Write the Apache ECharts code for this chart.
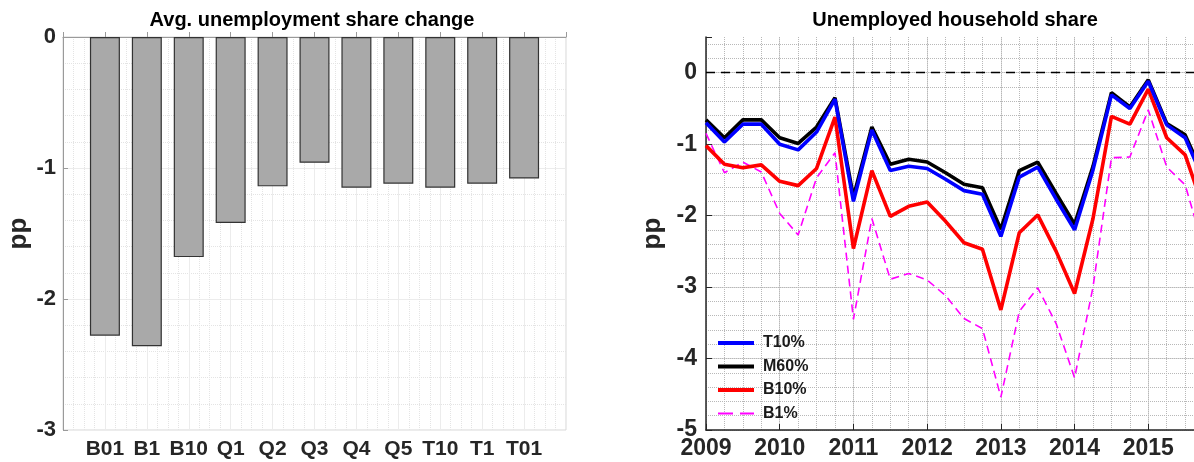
<!DOCTYPE html>
<html>
<head>
<meta charset="utf-8">
<script src="https://cdn.jsdelivr.net/npm/echarts@6/dist/echarts.min.js"></script>
<style>
html, body { margin: 0; padding: 0; background: #fff; }
#chart { width: 1194px; height: 462px; }
</style>
</head>
<body>
<div id="chart"></div>
<script>
// left panel: average change per group
const groups = ['B01', 'B1', 'B10', 'Q1', 'Q2', 'Q3', 'Q4', 'Q5', 'T10', 'T1', 'T01']
const avgChange = [-2.28, -2.36, -1.68, -1.42, -1.14, -0.96, -1.15, -1.12, -1.15, -1.12, -1.08]

// right panel: quarterly share, 2009Q1 .. 2015Q4
const quarters = [
  2009, 2009.25, 2009.5, 2009.75, 2010, 2010.25, 2010.5, 2010.75,
  2011, 2011.25, 2011.5, 2011.75, 2012, 2012.25, 2012.5, 2012.75,
  2013, 2013.25, 2013.5, 2013.75, 2014, 2014.25, 2014.5, 2014.75,
  2015, 2015.25, 2015.5, 2015.75
]
const t10 = [-0.70, -0.97, -0.72, -0.72, -1.00, -1.08, -0.83, -0.37, -1.80, -0.80, -1.37, -1.31, -1.34, -1.49,
  -1.65, -1.70, -2.29, -1.46, -1.32, -1.77, -2.20, -1.36, -0.31, -0.50, -0.12, -0.73, -0.91, -1.50]
const m60 = [-0.66, -0.91, -0.66, -0.66, -0.91, -0.99, -0.76, -0.35, -1.74, -0.76, -1.28, -1.21, -1.25, -1.40,
  -1.56, -1.61, -2.19, -1.37, -1.25, -1.69, -2.12, -1.31, -0.28, -0.48, -0.10, -0.71, -0.87, -1.45]
const b10 = [-1.02, -1.28, -1.33, -1.29, -1.52, -1.58, -1.34, -0.62, -2.46, -1.37, -2.01, -1.87, -1.81, -2.08,
  -2.38, -2.47, -3.32, -2.24, -1.99, -2.50, -3.09, -2.04, -0.61, -0.72, -0.23, -0.91, -1.15, -1.90]
const b1 = [-0.85, -1.40, -1.25, -1.39, -1.97, -2.27, -1.47, -1.12, -3.45, -2.04, -2.89, -2.81, -2.90, -3.12,
  -3.44, -3.58, -4.54, -3.34, -3.01, -3.51, -4.27, -3.00, -1.19, -1.18, -0.52, -1.32, -1.57, -2.45]
const yTicks = [-5, -4, -3, -2, -1, 0]
const xStart = 2009
const xEdge = 2015.62 // the figure is cut off here

const font = 'Liberation Sans, Arial, Helvetica, sans-serif'
// legend samples: thick solid bar, or two thin dashes
const solidIcon = 'path://M0,0H36V3.8H0Z'
const dashIcon = 'path://M0,0H15V1.8H0Z M22,0H36V1.8H22Z'
const lines = [
  { name: 'T10%', data: t10, color: '#0000ff', width: 3.6, type: 'solid', icon: solidIcon },
  { name: 'M60%', data: m60, color: '#000000', width: 3.6, type: 'solid', icon: solidIcon },
  { name: 'B10%', data: b10, color: '#ff0000', width: 3.6, type: 'solid', icon: solidIcon },
  { name: 'B1%', data: b1, color: '#ff00ff', width: 1.6, type: [8, 5], icon: dashIcon }
]

const chart = echarts.init(document.getElementById('chart'))

const series = [{
  type: 'bar',
  xAxisIndex: 0,
  yAxisIndex: 0,
  barWidth: 30,
  data: groups.map((g, i) => [i + 1, avgChange[i]]),
  itemStyle: { color: '#a9a9a9', borderColor: '#333333', borderWidth: 1.2 }
}]
lines.forEach((item, k) => {
  series.push({
    name: item.name,
    type: 'line',
    xAxisIndex: 1,
    yAxisIndex: 1,
    symbol: 'none',
    clip: true,
    data: quarters.map((q, i) => [q, item.data[i]]),
    lineStyle: { color: item.color, width: item.width, type: item.type },
    itemStyle: { color: item.color },
    z: 10 - k,
    markLine: k === 0 ? {
      silent: true,
      symbol: 'none',
      label: { show: false },
      lineStyle: { color: '#000', width: 1.3, type: [9, 6] },
      data: [{ yAxis: 0 }]
    } : undefined
  })
})

const labelStyle = { fontFamily: font, fontWeight: 'bold', color: '#262626' }
const nameStyle = { fontFamily: font, fontWeight: 'bold', fontSize: 26, color: '#262626' }

chart.setOption({
  animation: false,
  title: [
    {
      text: 'Avg. unemployment share change',
      left: 312, top: 10, textAlign: 'center', padding: 0,
      textStyle: { fontFamily: font, fontWeight: 'bold', fontSize: 20, color: '#000' }
    },
    {
      text: 'Unemployed household share',
      left: 955, top: 10, textAlign: 'center', padding: 0,
      textStyle: { fontFamily: font, fontWeight: 'bold', fontSize: 20, color: '#000' }
    }
  ],
  legend: {
    data: lines.map(l => ({ name: l.name, icon: l.icon })),
    orient: 'vertical',
    left: 718,
    top: 335,
    padding: 0,
    itemWidth: 36,
    itemHeight: 14,
    itemGap: 7.5,
    itemStyle: { borderWidth: 0 },
    textStyle: { fontFamily: font, fontWeight: 'bold', fontSize: 16, color: '#1a1a1a', padding: [0, 0, 0, 4] }
  },
  grid: [
    { left: 63, right: 628, top: 37, bottom: 32, show: true, borderColor: '#d6d6d6', borderWidth: 1 },
    { left: 706, right: 0, top: 37, bottom: 32 }
  ],
  xAxis: [
    {
      gridIndex: 0, type: 'value', min: 0, max: 12, interval: 1,
      axisLine: { lineStyle: { color: '#9a9a9a' } },
      axisTick: { inside: true, length: 5, lineStyle: { color: '#9a9a9a' } },
      axisLabel: Object.assign({ fontSize: 21, margin: 9, formatter: v => groups[v - 1] || '' }, labelStyle),
      splitLine: { lineStyle: { color: '#ececec' } },
      minorTick: { show: false, splitNumber: 4 },
      minorSplitLine: { show: true, lineStyle: { color: '#e4e4e4', type: 'dotted' } }
    },
    {
      gridIndex: 1, type: 'value', min: xStart, max: xEdge, interval: 1,
      axisLine: { onZero: false, lineStyle: { color: '#262626', width: 1.5 } },
      axisTick: { inside: true, length: 6, lineStyle: { color: '#262626' } },
      axisLabel: Object.assign({ fontSize: 23, margin: 7, showMaxLabel: false,
        formatter: v => Number.isInteger(v) ? String(v) : '' }, labelStyle),
      splitLine: { showMaxLine: false, lineStyle: { color: '#d9d9d9' } }
    },
    {
      gridIndex: 1, type: 'value', min: xStart, max: xEdge, interval: 0.25,
      axisLine: { show: false }, axisTick: { show: false }, axisLabel: { show: false },
      splitLine: { showMaxLine: false, lineStyle: { color: '#b8b8b8', type: 'dotted' } }
    }
  ],
  yAxis: [
    {
      gridIndex: 0, type: 'value', min: -3, max: 0, interval: 1,
      name: 'pp', nameLocation: 'middle', nameGap: 31, nameTextStyle: nameStyle,
      axisLine: { show: true, lineStyle: { color: '#9a9a9a' } },
      axisTick: { show: true, inside: true, length: 5, lineStyle: { color: '#9a9a9a' } },
      axisLabel: Object.assign({ fontSize: 22, margin: 7 }, labelStyle),
      splitLine: { lineStyle: { color: '#ececec' } },
      minorTick: { show: false, splitNumber: 5 },
      minorSplitLine: { show: true, lineStyle: { color: '#e4e4e4', type: 'dotted' } }
    },
    {
      gridIndex: 1, type: 'value', min: -5, max: 0.5, interval: 1,
      name: 'pp', nameLocation: 'middle', nameGap: 40, nameTextStyle: nameStyle,
      axisLine: { show: true, onZero: false, lineStyle: { color: '#262626', width: 1.5 } },
      axisTick: { show: true, inside: true, length: 6, lineStyle: { color: '#262626' } },
      axisLabel: Object.assign({ fontSize: 23, margin: 9, formatter: v => yTicks.includes(v) ? String(v) : '' }, labelStyle),
      splitLine: { showMaxLine: false, lineStyle: { color: '#d9d9d9' } }
    },
    {
      gridIndex: 1, type: 'value', min: -5, max: 0.5, interval: 0.2,
      axisLine: { show: false }, axisTick: { show: false }, axisLabel: { show: false },
      splitLine: { showMaxLine: false, lineStyle: { color: '#b8b8b8', type: 'dotted' } }
    }
  ],
  series: series
})
</script>
</body>
</html>
